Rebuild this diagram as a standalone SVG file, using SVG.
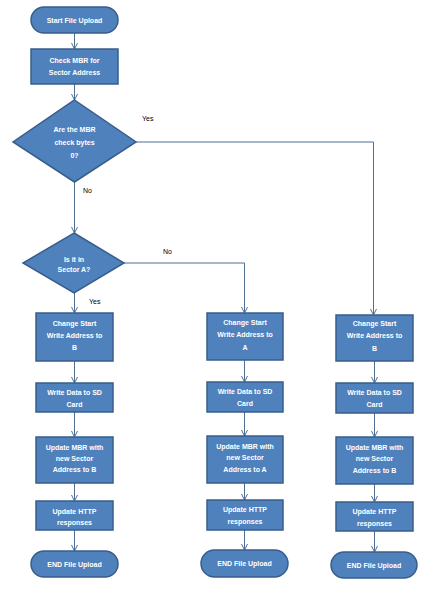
<svg xmlns="http://www.w3.org/2000/svg" width="446" height="594" viewBox="0 0 446 594">
<style>
.n{fill:#4F81BD;stroke:#385D8A;stroke-width:1.5}
.t{font-family:"Liberation Sans",Arial,sans-serif;font-size:7px;font-weight:bold;fill:#FFFFFF;text-anchor:middle}
.l{font-family:"Liberation Sans",Arial,sans-serif;font-size:7px;fill:#000000}
.c{fill:none;stroke:#4F6F94;stroke-width:1}
</style>
<defs>
<marker id="a" markerWidth="8" markerHeight="8" refX="7" refY="4" orient="auto" markerUnits="userSpaceOnUse">
<path d="M1,1 L7,4 L1,7" fill="none" stroke="#4F6F94" stroke-width="1"/>
</marker>
</defs>
<rect width="446" height="594" fill="#FFFFFF"/>
<g id="connectors">
<line class="c" x1="74.5" y1="33" x2="74.5" y2="49" marker-end="url(#a)"/>
<line class="c" x1="74.5" y1="84" x2="74.5" y2="100" marker-end="url(#a)"/>
<line class="c" x1="74.5" y1="182" x2="74.5" y2="233" marker-end="url(#a)"/>
<polyline class="c" points="136,142 373.5,142 373.5,315" marker-end="url(#a)"/>
<polyline class="c" points="124,263 244.5,263 244.5,313" marker-end="url(#a)"/>
<line class="c" x1="74.5" y1="293" x2="74.5" y2="313" marker-end="url(#a)"/>
<line class="c" x1="74.5" y1="361" x2="74.5" y2="383" marker-end="url(#a)"/>
<line class="c" x1="74.5" y1="412" x2="74.5" y2="437" marker-end="url(#a)"/>
<line class="c" x1="74.5" y1="483" x2="74.5" y2="501" marker-end="url(#a)"/>
<line class="c" x1="74.5" y1="530" x2="74.5" y2="551" marker-end="url(#a)"/>
<line class="c" x1="244.5" y1="360" x2="244.5" y2="382" marker-end="url(#a)"/>
<line class="c" x1="244.5" y1="412" x2="244.5" y2="436" marker-end="url(#a)"/>
<line class="c" x1="244.5" y1="483" x2="244.5" y2="500" marker-end="url(#a)"/>
<line class="c" x1="244.5" y1="530" x2="244.5" y2="550" marker-end="url(#a)"/>
<line class="c" x1="374.5" y1="361" x2="374.5" y2="383" marker-end="url(#a)"/>
<line class="c" x1="374.5" y1="413" x2="374.5" y2="437" marker-end="url(#a)"/>
<line class="c" x1="374.5" y1="484" x2="374.5" y2="502" marker-end="url(#a)"/>
<line class="c" x1="374.5" y1="531" x2="374.5" y2="552" marker-end="url(#a)"/>
<text class="l" x="142" y="121">Yes</text>
<text class="l" x="83" y="193">No</text>
<text class="l" x="163" y="254">No</text>
<text class="l" x="89" y="304">Yes</text>
</g>
<g id="start">
<rect class="n" x="31" y="7" width="87" height="26" rx="13"/>
<text class="t" x="74.5" y="22.5">Start File Upload</text>
</g>
<g id="checkMBR">
<rect class="n" x="31" y="49" width="87" height="35"/>
<text class="t" x="74.5" y="62.5">Check MBR for</text>
<text class="t" x="74.5" y="74.5">Sector Address</text>
</g>
<g id="decision1">
<polygon class="n" points="74.5,100 136,142 74.5,182 13,142"/>
<text class="t" x="74.5" y="131.5">Are the MBR</text>
<text class="t" x="74.5" y="144.5">check bytes</text>
<text class="t" x="74.5" y="157.5">0?</text>
</g>
<g id="decision2">
<polygon class="n" points="74,233 124,263 74,293 23,263"/>
<text class="t" x="74" y="261.5">Is it in</text>
<text class="t" x="74" y="271.5">Sector A?</text>
</g>
<g id="leftChange">
<rect class="n" x="36" y="313" width="77" height="48"/>
<text class="t" x="74.5" y="325.5">Change Start</text>
<text class="t" x="74.5" y="337.5">Write Address to</text>
<text class="t" x="74.5" y="349.5">B</text>
</g>
<g id="leftWrite">
<rect class="n" x="36" y="383" width="77" height="29"/>
<text class="t" x="74.5" y="394.5">Write Data to SD</text>
<text class="t" x="74.5" y="406.5">Card</text>
</g>
<g id="leftMBR">
<rect class="n" x="36" y="437" width="77" height="46"/>
<text class="t" x="74.5" y="449.5">Update MBR with</text>
<text class="t" x="74.5" y="460.5">new Sector</text>
<text class="t" x="74.5" y="471.5">Address to B</text>
</g>
<g id="leftHTTP">
<rect class="n" x="36" y="501" width="77" height="29"/>
<text class="t" x="74.5" y="513.5">Update HTTP</text>
<text class="t" x="74.5" y="524.5">responses</text>
</g>
<g id="leftEnd">
<rect class="n" x="31" y="551" width="87" height="26" rx="13"/>
<text class="t" x="74.5" y="566.5">END File Upload</text>
</g>
<g id="midChange">
<rect class="n" x="207" y="313" width="76" height="47"/>
<text class="t" x="245" y="324.5">Change Start</text>
<text class="t" x="245" y="336.5">Write Address to</text>
<text class="t" x="245" y="349.5">A</text>
</g>
<g id="midWrite">
<rect class="n" x="207" y="382" width="76" height="30"/>
<text class="t" x="245" y="393.5">Write Data to SD</text>
<text class="t" x="245" y="405.5">Card</text>
</g>
<g id="midMBR">
<rect class="n" x="207" y="436" width="76" height="47"/>
<text class="t" x="245" y="448.5">Update MBR with</text>
<text class="t" x="245" y="459.5">new Sector</text>
<text class="t" x="245" y="471.5">Address to A</text>
</g>
<g id="midHTTP">
<rect class="n" x="207" y="500" width="76" height="30"/>
<text class="t" x="245" y="511.5">Update HTTP</text>
<text class="t" x="245" y="523.5">responses</text>
</g>
<g id="midEnd">
<rect class="n" x="201" y="550" width="87" height="27" rx="13.5"/>
<text class="t" x="244.5" y="565.5">END File Upload</text>
</g>
<g id="rightChange">
<rect class="n" x="336" y="315" width="77" height="46"/>
<text class="t" x="374.5" y="325.5">Change Start</text>
<text class="t" x="374.5" y="337.5">Write Address to</text>
<text class="t" x="374.5" y="350.5">B</text>
</g>
<g id="rightWrite">
<rect class="n" x="336" y="383" width="77" height="30"/>
<text class="t" x="374.5" y="394.5">Write Data to SD</text>
<text class="t" x="374.5" y="406.5">Card</text>
</g>
<g id="rightMBR">
<rect class="n" x="336" y="437" width="77" height="47"/>
<text class="t" x="374.5" y="449.5">Update MBR with</text>
<text class="t" x="374.5" y="460.5">new Sector</text>
<text class="t" x="374.5" y="472.5">Address to B</text>
</g>
<g id="rightHTTP">
<rect class="n" x="336" y="502" width="77" height="29"/>
<text class="t" x="374.5" y="513.5">Update HTTP</text>
<text class="t" x="374.5" y="525.5">responses</text>
</g>
<g id="rightEnd">
<rect class="n" x="331" y="552" width="86" height="26" rx="13"/>
<text class="t" x="374" y="567.5">END File Upload</text>
</g>
</svg>
